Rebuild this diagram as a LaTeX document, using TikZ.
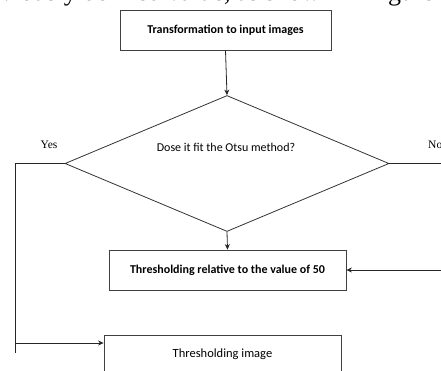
\documentclass[tikz,border=0pt]{standalone}
\usepackage{fontspec}
\setmainfont{Liberation Serif}
\newfontfamily\boxfont{Carlito}
\usetikzlibrary{arrows.meta,shapes.geometric}

\begin{document}
\begin{tikzpicture}[
  x=1pt, y=-1pt,
  arr/.style={-{Stealth[length=5.5pt,width=5pt]}, line width=0.8pt, black!85},
  lne/.style={line width=0.8pt, black!85},
  pbox/.style={draw=black!75, line width=0.8pt, inner sep=0pt,
               minimum height=40pt, align=center, font=\boxfont\fontsize{12}{14}\selectfont\bfseries},
  rbox/.style={draw=black!75, line width=0.8pt, inner sep=0pt,
               minimum height=40pt, align=center, font=\boxfont\fontsize{12.5}{14}\selectfont},
  dbox/.style={diamond, draw=black!80, line width=0.8pt, inner sep=0pt,
               minimum width=324pt, minimum height=136pt},
  lbl/.style={font=\fontsize{11.5}{13}\selectfont, inner sep=0pt},
]
\useasboundingbox (0,0) rectangle (441,370);
\clip (0,0) rectangle (441,370);
% page text above the figure
\node[anchor=base west, inner sep=0pt, font=\fontsize{26}{28}\selectfont] (txt) at (0,0.5)
  {viously defined value, as shown in Figure};
% boxes
\node[pbox, minimum width=211pt] (trans) at (225.5,30) {Transformation to input images};
\node[dbox] (otsu) at (227,163.5) {};
\node[font=\boxfont\fontsize{12}{14}\selectfont, inner sep=0pt] (q) at (226,147)
  {Dose it fit the Otsu method?};
\node[pbox, minimum width=237pt] (thr50) at (227.5,270) {Thresholding relative to the value of 50};
\node[rbox, minimum width=237pt] (thrimg) at (222.5,355) {\raisebox{4pt}{Thresholding image}};
% branch labels
\node[lbl] (yes) at (49,145) {Yes};
\node[lbl, anchor=west] (no) at (428,145) {No};
\coordinate (yesturn) at (15,163.5);
\coordinate (yesend) at (15,353);
\coordinate (noturn) at (447,163.5);
% connectors
\draw[arr] (trans.south) -- (otsu.north);
\draw[arr] (otsu.south) -- (thr50.north);
\draw[lne] (otsu.west) -- (yesturn) -- (yesend);
\draw[arr] (yesturn |- 0,343) -- (thrimg.west |- 0,343);
\draw[arr] (otsu.east) -- (noturn) |- (thr50.east);
\end{tikzpicture}
\end{document}
